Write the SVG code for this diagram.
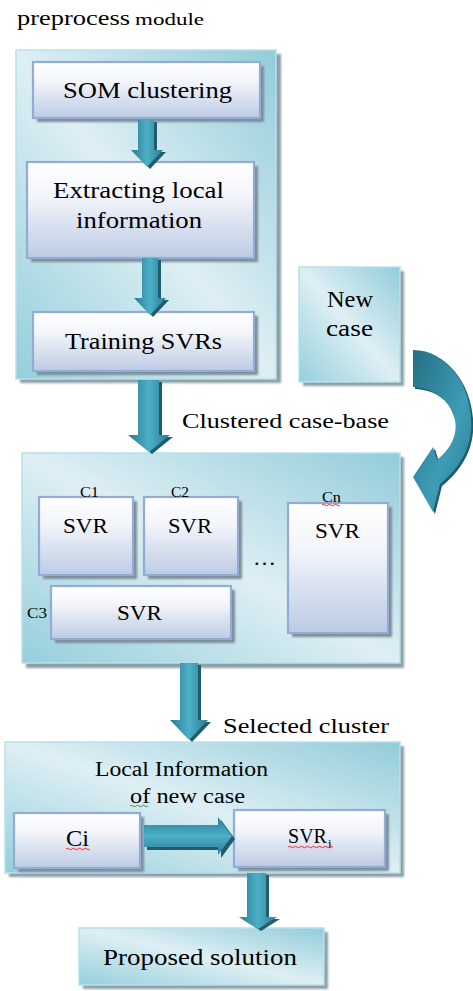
<svg xmlns="http://www.w3.org/2000/svg" width="473" height="991" viewBox="0 0 473 991">
  <defs>
    <linearGradient id="panelFill" x1="1" y1="0" x2="0" y2="1">
      <stop offset="0" stop-color="#92ccda"/>
      <stop offset="0.5" stop-color="#deeff4"/>
      <stop offset="1" stop-color="#95cfdc"/>
    </linearGradient>
    <linearGradient id="boxFill" x1="0" y1="0" x2="0" y2="1">
      <stop offset="0" stop-color="#ffffff"/>
      <stop offset="0.35" stop-color="#f3f5fa"/>
      <stop offset="1" stop-color="#bccbe4"/>
    </linearGradient>
    <linearGradient id="arrowV" x1="0" y1="0" x2="1" y2="0">
      <stop offset="0" stop-color="#2a7b90"/>
      <stop offset="0.5" stop-color="#4cb0c8"/>
      <stop offset="1" stop-color="#2a7b90"/>
    </linearGradient>
    <linearGradient id="arrowH" x1="0" y1="0" x2="0" y2="1">
      <stop offset="0" stop-color="#2a7b90"/>
      <stop offset="0.5" stop-color="#4cb0c8"/>
      <stop offset="1" stop-color="#2a7b90"/>
    </linearGradient>
    <linearGradient id="arrowC" x1="0" y1="0" x2="1" y2="1">
      <stop offset="0" stop-color="#266f83"/>
      <stop offset="0.6" stop-color="#3d9db5"/>
      <stop offset="1" stop-color="#2a7b90"/>
    </linearGradient>
    <filter id="soft" x="-10%" y="-10%" width="120%" height="120%">
      <feGaussianBlur stdDeviation="1.2"/>
    </filter>
  </defs>
  <style>
    .t { font-family: "Liberation Serif", "Times New Roman", Tinos, Times, "DejaVu Serif", serif; fill: #000; }
    .panel { fill: url(#panelFill); stroke: #b9e0ea; stroke-width: 1.5; }
    .pshadow { fill: #8d9fa6; filter: url(#soft); }
    .box { fill: url(#boxFill); stroke: #93acd6; stroke-width: 2.2; }
    .bshadow { fill: #7d8c98; filter: url(#soft); }
    .av { fill: url(#arrowV); }
    .ah { fill: url(#arrowH); }
    .ashadow { fill: #1f5d6d; }
    .big { font-size: 24px; }
    .mid { font-size: 21px; }
    .small { font-size: 14px; }
    .squig { fill: none; stroke-width: 1; }
  </style>

  <!-- title -->
  <text class="t" x="17" y="25" font-size="22" textLength="113" lengthAdjust="spacingAndGlyphs">preprocess</text>
  <text class="t" x="135" y="25" font-size="17" textLength="69" lengthAdjust="spacingAndGlyphs">module</text>

  <!-- preprocess module panel -->
  <g id="preprocess-module">
    <rect class="pshadow" x="20" y="54" width="261" height="329"/>
    <rect class="panel" x="16" y="50" width="260" height="329"/>
  </g>

  <g id="som-clustering">
    <rect class="bshadow" x="37" y="66" width="227" height="56"/>
    <rect class="box" x="33" y="62" width="227" height="56"/>
    <text class="t big" x="63" y="98" textLength="169" lengthAdjust="spacingAndGlyphs">SOM clustering</text>
  </g>

  <g id="extracting-local-information">
    <rect class="bshadow" x="31" y="166" width="227" height="96"/>
    <rect class="box" x="27" y="162" width="227" height="96"/>
    <text class="t big" x="53" y="198" textLength="171" lengthAdjust="spacingAndGlyphs">Extracting local</text>
    <text class="t big" x="76" y="228" textLength="126" lengthAdjust="spacingAndGlyphs">information</text>
  </g>

  <g id="training-svrs">
    <rect class="bshadow" x="37" y="316" width="221" height="59"/>
    <rect class="box" x="33" y="312" width="221" height="59"/>
    <text class="t big" x="65" y="349" textLength="157" lengthAdjust="spacingAndGlyphs">Training SVRs</text>
  </g>

  <!-- new case -->
  <g id="new-case">
    <rect class="pshadow" x="303" y="271" width="101" height="115"/>
    <rect class="panel" x="299" y="267" width="101" height="115"/>
    <text class="t big" x="327" y="307" textLength="46" lengthAdjust="spacingAndGlyphs">New</text>
    <text class="t big" x="326" y="336" textLength="47" lengthAdjust="spacingAndGlyphs">case</text>
  </g>

  <!-- clustered case-base -->
  <text class="t mid" x="182" y="428" textLength="207" lengthAdjust="spacingAndGlyphs">Clustered case-base</text>

  <g id="clustered-case-base">
    <rect class="pshadow" x="26" y="457" width="378" height="211"/>
    <rect class="panel" x="22" y="453" width="378" height="210"/>
  </g>

  <g id="cluster-c1">
    <rect class="bshadow" x="43" y="501" width="94" height="78"/>
    <rect class="box" x="39" y="497" width="94" height="78"/>
    <text class="t small" x="80" y="497" textLength="19" lengthAdjust="spacingAndGlyphs">C1</text>
    <text class="t mid" x="63" y="533" textLength="45" lengthAdjust="spacingAndGlyphs">SVR</text>
  </g>

  <g id="cluster-c2">
    <rect class="bshadow" x="148" y="501" width="94" height="78"/>
    <rect class="box" x="144" y="497" width="94" height="78"/>
    <text class="t small" x="171" y="497" textLength="18" lengthAdjust="spacingAndGlyphs">C2</text>
    <text class="t mid" x="168" y="533" textLength="44" lengthAdjust="spacingAndGlyphs">SVR</text>
  </g>

  <g id="cluster-c3">
    <rect class="bshadow" x="55" y="590" width="180" height="53"/>
    <rect class="box" x="51" y="586" width="180" height="53"/>
    <text class="t small" x="27" y="618" textLength="20" lengthAdjust="spacingAndGlyphs">C3</text>
    <text class="t mid" x="117" y="620" textLength="45" lengthAdjust="spacingAndGlyphs">SVR</text>
  </g>

  <g id="cluster-cn">
    <rect class="bshadow" x="292" y="507" width="100" height="130"/>
    <rect class="box" x="288" y="503" width="100" height="130"/>
    <text class="t small" x="322" y="502" textLength="19" lengthAdjust="spacingAndGlyphs">Cn</text>
    <path class="squig" stroke="#e03030" d="M322 505 q1.5 -1.5 3 0 t3 0 t3 0 t3 0 t3 0 t3 0"/>
    <text class="t mid" x="315" y="538" textLength="45" lengthAdjust="spacingAndGlyphs">SVR</text>
  </g>

  <text class="t mid" x="253" y="565" textLength="23" lengthAdjust="spacingAndGlyphs">…</text>

  <!-- selected cluster -->
  <text class="t mid" x="223" y="733" textLength="166" lengthAdjust="spacingAndGlyphs">Selected cluster</text>

  <g id="selected-cluster">
    <rect class="pshadow" x="9" y="746" width="395" height="131"/>
    <rect class="panel" x="5" y="742" width="395" height="131"/>
    <text class="t" x="95" y="776" font-size="20" textLength="173" lengthAdjust="spacingAndGlyphs">Local Information</text>
    <text class="t" x="130" y="803" font-size="20" textLength="115" lengthAdjust="spacingAndGlyphs">of new case</text>
    <path class="squig" stroke="#3aa040" d="M130 806 q1.5 -1.5 3 0 t3 0 t3 0 t3 0 t3 0 t3 0"/>
  </g>

  <g id="ci">
    <rect class="bshadow" x="18" y="817" width="126" height="55"/>
    <rect class="box" x="14" y="813" width="126" height="55"/>
    <text class="t big" x="66" y="846" textLength="23" lengthAdjust="spacingAndGlyphs">Ci</text>
    <path class="squig" stroke="#e03030" d="M66 849 q1.5 -1.5 3 0 t3 0 t3 0 t3 0 t3 0 t3 0 t3 0 t3 0"/>
  </g>

  <g id="svr-i">
    <rect class="bshadow" x="238" y="814" width="151" height="57"/>
    <rect class="box" x="234" y="810" width="151" height="57"/>
    <text class="t mid" x="288" y="843" textLength="39" lengthAdjust="spacingAndGlyphs">SVR</text>
    <text class="t" x="328" y="848" font-size="13">i</text>
    <path class="squig" stroke="#e03030" d="M288 847 q1.5 -1.5 3 0 t3 0 t3 0 t3 0 t3 0 t3 0 t3 0 t3 0 t3 0 t3 0 t3 0 t3 0 t3 0 t3 0 t3 0"/>
  </g>

  <g id="proposed-solution">
    <rect class="pshadow" x="83" y="932" width="245" height="57"/>
    <rect class="panel" x="79" y="928" width="245" height="57"/>
    <text class="t big" x="103" y="965" textLength="194" lengthAdjust="spacingAndGlyphs">Proposed solution</text>
  </g>

  <!-- connectors -->
  <g id="connectors">
    <!-- SOM clustering to extracting -->
    <path class="ashadow" d="M141 122 h16 v30 h9 l-16 17 l-16 -17 h7 z"/>
    <path class="av" d="M138 120 h16 v30 h9 l-16 17 l-16 -17 h7 z"/>
    <!-- extracting to training -->
    <path class="ashadow" d="M145 260 h16 v40 h8 l-16 17 l-16 -17 h8 z"/>
    <path class="av" d="M142 258 h16 v40 h8 l-16 17 l-16 -17 h8 z"/>
    <!-- preprocess module to case-base -->
    <path class="ashadow" d="M141 382 h21 v55 h11 l-21 17 l-21 -17 h10 z"/>
    <path class="av" d="M138 380 h21 v55 h11 l-21 17 l-21 -17 h10 z"/>
    <!-- case-base to selected cluster -->
    <path class="ashadow" d="M183 665 h18 v57 h10 l-19 20 l-19 -20 h10 z"/>
    <path class="av" d="M180 663 h18 v57 h10 l-19 20 l-19 -20 h10 z"/>
    <!-- ci to svr-i -->
    <path class="ashadow" d="M147 828 h74 v-8 l14 19 l-14 19 v-8 h-74 z"/>
    <path class="ah" d="M144 825 h74 v-8 l14 19 l-14 19 v-8 h-74 z"/>
    <!-- svr-i to proposed solution -->
    <path class="ashadow" d="M250 875 h19 v44 h11 l-19 12 l-19 -12 h8 z"/>
    <path class="av" d="M247 873 h19 v44 h11 l-19 12 l-19 -12 h8 z"/>
    <!-- new case into case-base (curved) -->
    <path class="ashadow" d="M415 352 C452 352 476 392 473 432 C471 456 457 474 442 486 L435 514 L415 479 L435 449 L439 462 C452 452 460 437 457 422 C452 402 437 390 415 389 Z"/>
    <path fill="url(#arrowC)" d="M413 350 C450 350 474 390 471 430 C469 454 455 472 440 484 L433 512 L413 477 L433 447 L437 460 C450 450 458 435 455 420 C450 400 435 388 413 387 Z"/>
  </g>
</svg>
